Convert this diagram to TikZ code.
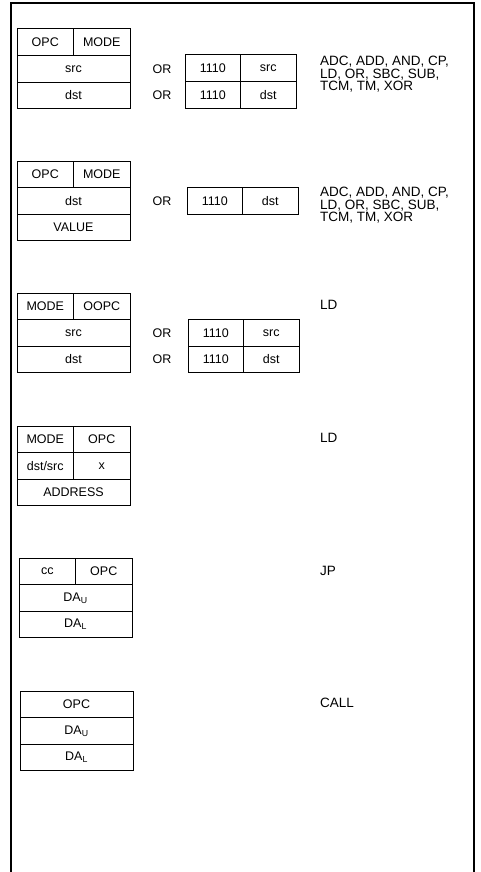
\documentclass[tikz,border=0pt]{standalone}
\usepackage{fontspec}
\setmainfont{Liberation Sans}
\usetikzlibrary{positioning}

\begin{document}
\begin{tikzpicture}[
    x=1pt, y=-1pt,
    cell/.style={draw, line width=1pt, inner sep=0pt, outer sep=0pt,
                 minimum height=26.6pt, anchor=north west,
                 font=\fontsize{12.5}{14}\selectfont},
    half/.style={cell, minimum width=56.5pt},
    full/.style={cell, minimum width=113pt},
    rhalf/.style={cell, minimum width=55.5pt},
    ortext/.style={font=\fontsize{12.5}{14}\selectfont, inner sep=0pt},
    oplist/.style={anchor=north west, align=left, inner sep=0pt,
                   font=\fontsize{13.5}{12.6}\selectfont}
]
    \useasboundingbox (0,0) rectangle (481,872);
    % Frame
    \draw[line width=1.3pt] (11,872) -- (11,3) -- (474,3) -- (474,872);

    % Group 1
    \node[half] (opcA) at (17,29) {OPC};
    \node[half, right=0pt of opcA] (modeA) {MODE};
    \node[full] (srcA) at (opcA.south west) {src};
    \node[full] (dstA) at (srcA.south west) {dst};
    \node[rhalf] (escA) at (185,55) {1110};
    \node[rhalf, right=0pt of escA] (xsrcA) {src};
    \node[rhalf] (escB) at (escA.south west) {1110};
    \node[rhalf, right=0pt of escB] (xdstA) {dst};
    \node[ortext] (orA) at (162,0 |- srcA) {OR};
    \node[ortext] (orB) at (162,0 |- dstA) {OR};
    \node[oplist] (listA) at (320,56) {ADC, ADD, AND, CP,\\LD, OR, SBC, SUB,\\TCM, TM, XOR};

    % Group 2
    \node[half] (opcB) at (17,161) {OPC};
    \node[half, right=0pt of opcB] (modeB) {MODE};
    \node[full] (dstB) at (opcB.south west) {dst};
    \node[full] (valB) at (dstB.south west) {VALUE};
    \node[rhalf] (escC) at (187,0 |- dstB.north) {1110};
    \node[rhalf, right=0pt of escC] (xdstB) {dst};
    \node[ortext] (orC) at (162,0 |- dstB) {OR};
    \node[oplist] (listB) at (320,187) {ADC, ADD, AND, CP,\\LD, OR, SBC, SUB,\\TCM, TM, XOR};

    % Group 3
    \node[half] (modeC) at (17,293) {MODE};
    \node[half, right=0pt of modeC] (oopcC) {OOPC};
    \node[full] (srcC) at (modeC.south west) {src};
    \node[full] (dstC) at (srcC.south west) {dst};
    \node[rhalf] (escD) at (188,0 |- srcC.north) {1110};
    \node[rhalf, right=0pt of escD] (xsrcC) {src};
    \node[rhalf] (escE) at (escD.south west) {1110};
    \node[rhalf, right=0pt of escE] (xdstC) {dst};
    \node[ortext] (orD) at (162,0 |- srcC) {OR};
    \node[ortext] (orE) at (162,0 |- dstC) {OR};
    \node[oplist, anchor=west] (listC) at (320,305) {LD};

    % Group 4
    \node[half] (modeD) at (17,426) {MODE};
    \node[half, right=0pt of modeD] (opcD) {OPC};
    \node[half] (dsD) at (modeD.south west) {dst/src};
    \node[half, right=0pt of dsD] (xD) {x};
    \node[full] (addrD) at (dsD.south west) {ADDRESS};
    \node[oplist, anchor=west] (listD) at (320,438) {LD};

    % Group 5
    \node[half] (ccE) at (19,558) {cc};
    \node[half, right=0pt of ccE] (opcE) {OPC};
    \node[full] (dauE) at (ccE.south west) {DA\textsubscript{U}};
    \node[full] (dalE) at (dauE.south west) {DA\textsubscript{L}};
    \node[oplist, anchor=west] (listE) at (320,571) {JP};

    % Group 6
    \node[full] (opcF) at (20,691) {OPC};
    \node[full] (dauF) at (opcF.south west) {DA\textsubscript{U}};
    \node[full] (dalF) at (dauF.south west) {DA\textsubscript{L}};
    \node[oplist, anchor=west] (listF) at (320,703) {CALL};
\end{tikzpicture}
\end{document}
